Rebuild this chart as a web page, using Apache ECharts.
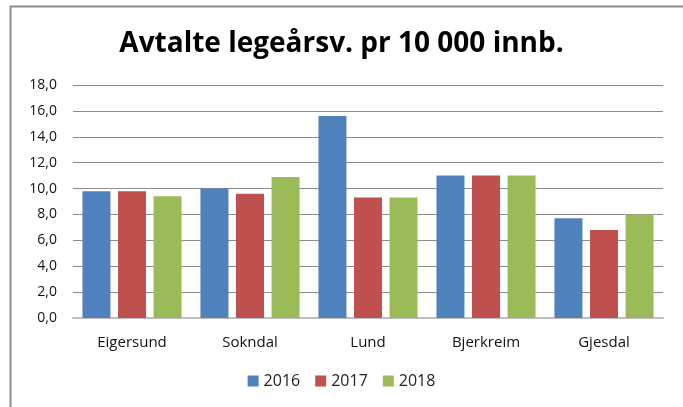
<!DOCTYPE html>
<html><head><meta charset="utf-8">
<script src="https://cdn.jsdelivr.net/npm/echarts@6/dist/echarts.min.js"></script>
<style>html,body{margin:0;padding:0;background:#fff}#c{width:683px;height:407px}</style>
</head><body><div id="c"></div>
<script>
const categories = ['Eigersund', 'Sokndal', 'Lund', 'Bjerkreim', 'Gjesdal'];
const v2016 = [9.8, 10.0, 15.6, 11.0, 7.7];
const v2017 = [9.8, 9.6, 9.3, 11.0, 6.8];
const v2018 = [9.4, 10.9, 9.3, 11.0, 8.0];
const seriesNames = ['2016', '2017', '2018'];
const colors = ['#4f81bd', '#c0504d', '#9bbb59'];
const titleText = 'Avtalte legeårsv. pr 10 000 innb.';

const font = '"Open Sans", "Noto Sans", sans-serif';
const chart = echarts.init(document.getElementById('c'), null, {renderer: 'canvas'});
chart.setOption({
  animation: false,
  color: colors,
  graphic: [{
    type: 'rect', silent: true, z: -1,
    shape: {x: 10.5, y: 6.5, width: 700, height: 450},
    style: {fill: 'none', stroke: '#8c8c8c', lineWidth: 2}
  }],
  title: {
    text: titleText, left: 'center', top: 25,
    textStyle: {fontFamily: font, fontSize: 28, fontWeight: 'bold', color: '#000'}
  },
  legend: {
    data: seriesNames, bottom: 13, left: 'center',
    itemWidth: 11, itemHeight: 11, itemGap: 15, icon: 'rect',
    textStyle: {fontFamily: font, fontSize: 16, color: '#222'}
  },
  grid: {left: 73, right: 20, top: 85, bottom: 89, containLabel: false},
  xAxis: {
    type: 'category', data: categories,
    axisLine: {lineStyle: {color: '#bfbfbf', width: 2}},
    axisTick: {show: false},
    axisLabel: {fontFamily: font, fontSize: 15, color: '#111', margin: 17}
  },
  yAxis: {
    type: 'value', min: 0, max: 18, interval: 2,
    axisLine: {show: false}, axisTick: {show: false},
    splitLine: {lineStyle: {color: '#8c8c8c', width: 1}},
    axisLabel: {fontFamily: font, fontSize: 14, color: '#111', margin: 16,
      formatter: v => v.toFixed(1).replace('.', ',')}
  },
  series: [
    {name: seriesNames[0], type: 'bar', data: v2016, barGap: '27%', barCategoryGap: '16%'},
    {name: seriesNames[1], type: 'bar', data: v2017, barGap: '27%', barCategoryGap: '16%'},
    {name: seriesNames[2], type: 'bar', data: v2018, barGap: '27%', barCategoryGap: '16%'}
  ]
});
</script></body></html>
